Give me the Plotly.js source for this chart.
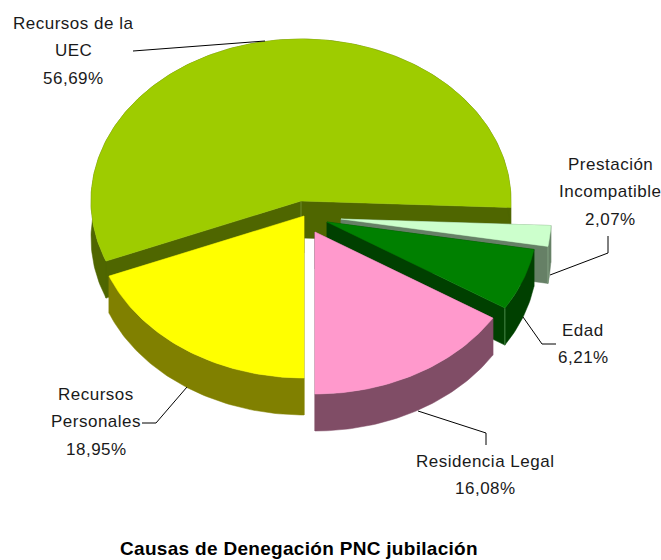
<!DOCTYPE html>
<html><head><meta charset="utf-8">
<script src="https://cdn.plot.ly/plotly-3.0.1.min.js"></script>
<style>html,body{margin:0;padding:0;background:#fff}
.annotation-text{letter-spacing:0.5px}
.gtitle{letter-spacing:0.3px}</style>
</head><body><div id="c" style="width:661px;height:560px"></div>
<script>
const categories = ["Recursos de la UEC","Recursos Personales","Residencia Legal","Edad","Prestación Incompatible"];
const values = [56.69,18.95,16.08,6.21,2.07];
const labelLines = [["Recursos de la","UEC"],["Recursos","Personales"],["Residencia Legal"],["Edad"],["Prestación","Incompatible"]];
const titleText = "Causas de Denegación PNC jubilación";
const topColors = ["#9ECC00","#FFFF00","#FF99CC","#008000","#CCFFCC"];
const wallColors = ["#4F6600","#808000","#804D66","#004000","#668066"];
const edgeColors = ["#7F9F40",null,null,"#60A060","#90B090"];
// geometry of the tilted pie, in pixels of the picture
const rx=210, ry=162, depth=37, startDeg=-2.3;
const centres=[[301,201],[304,216],[315,232],[327,222],[341,219]];
const labelAnchors=[[73,23],[96,394],[485,461],[583,330],[610,164]];
const lineGap=27.6;
const drawOrder=[0,4,3,1,2];
const leaders=[
 [[133,51],[265,41]],
 [[142,423],[156,423],[187,387]],
 [[418,411],[486,433],[486,445]],
 [[523,317],[542,344],[556,344]],
 [[550,275],[608,253],[608,236]]
];
const total=values.reduce((a,b)=>a+b,0);
let acc=startDeg; const spans=values.map(v=>{const a=acc;acc+=v/total*360;return [a,acc];});
function pt(i,deg,dz){const r=deg*Math.PI/180,c=centres[i];return [c[0]+rx*Math.cos(r),c[1]-ry*Math.sin(r)+dz];}
function arc(i,a,b,dz){const out=[];const n=Math.max(2,Math.ceil(Math.abs(b-a)));for(let k=0;k<=n;k++)out.push(pt(i,a+(b-a)*k/n,dz));return out;}
function poly(pts,color,name){return {type:"scatter",mode:"lines",x:pts.map(p=>p[0]).concat(pts[0][0]),y:pts.map(p=>p[1]).concat(pts[0][1]),fill:"toself",fillcolor:color,line:{color:color,width:0.5},hoverinfo:"text",text:name,showlegend:false};}
const traces=[];
drawOrder.forEach(i=>{
 const [a,b]=spans[i],c=centres[i],w=wallColors[i],n=categories[i];
 const apexT=[c[0],c[1]],apexB=[c[0],c[1]+depth];
 traces.push(poly([apexT,pt(i,b,0),pt(i,b,depth),apexB],w,n));
 traces.push(poly([apexT,pt(i,a,0),pt(i,a,depth),apexB],w,n));
 traces.push(poly(arc(i,a,b,0).concat(arc(i,b,a,depth)),w,n));
 if(edgeColors[i]){
  const e=i===0?[apexT,apexB]:[pt(i,a,0),pt(i,a,depth)];
  traces.push({type:"scatter",mode:"lines",x:e.map(p=>p[0]),y:e.map(p=>p[1]),line:{color:edgeColors[i],width:0.7},hoverinfo:"skip",showlegend:false});
 }
 traces.push(poly([apexT].concat(arc(i,a,b,0)),topColors[i],n));
});
leaders.forEach(l=>traces.push({type:"scatter",mode:"lines",x:l.map(p=>p[0]),y:l.map(p=>p[1]),line:{color:"#000",width:1},hoverinfo:"skip",showlegend:false}));
const fmt=v=>v.toFixed(2).replace(".",",")+"%";
const annotations=[];
categories.forEach((_,i)=>{
 const lines=labelLines[i].concat(fmt(values[i]));
 lines.forEach((t,k)=>annotations.push({text:t,x:labelAnchors[i][0],y:labelAnchors[i][1]+k*lineGap,xref:"x",yref:"y",showarrow:false,xanchor:"center",yanchor:"middle",font:{family:"Liberation Sans, Arial, sans-serif",size:17,color:"#1a1a1a"}}));
});
const layout={width:661,height:560,margin:{l:0,r:0,t:0,b:0},paper_bgcolor:"#fff",plot_bgcolor:"#fff",showlegend:false,
 title:{text:"<b>"+titleText+"</b>",x:299/661,xanchor:"center",y:1-548/560,yanchor:"middle",font:{family:"Liberation Sans, Arial, sans-serif",size:19,color:"#000"}},
 xaxis:{range:[0,661],visible:false,fixedrange:true},
 yaxis:{range:[560,0],visible:false,fixedrange:true},
 annotations};
Plotly.newPlot("c",traces,layout,{displayModeBar:false,staticPlot:true});
</script></body></html>
